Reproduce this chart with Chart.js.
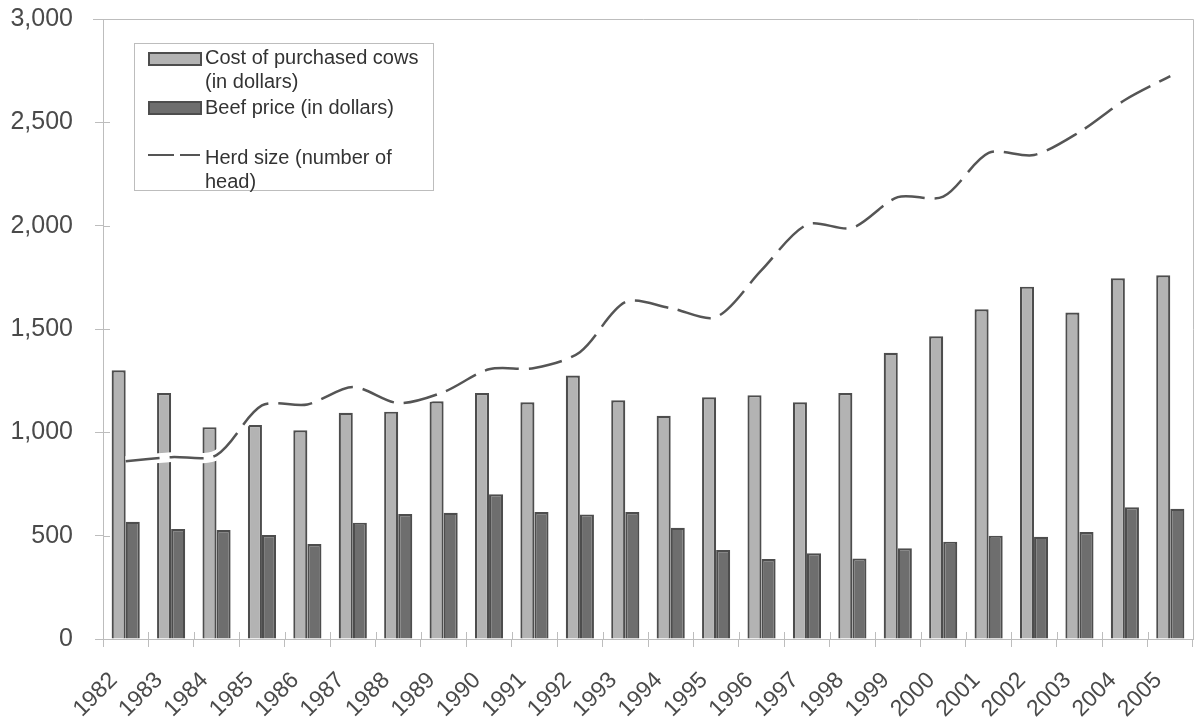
<!DOCTYPE html>
<html>
<head>
<meta charset="utf-8">
<script src="https://cdn.jsdelivr.net/npm/chart.js@4/dist/chart.umd.min.js"></script>
<style>
  html, body { margin: 0; padding: 0; background: #fff; }
  #wrap { position: relative; width: 1196px; height: 721px; }
  #legend { position: absolute; left: 134px; top: 43px; width: 298px; height: 146px;
    border: 1px solid #bdbdbd; background: #fff; font-family: "Liberation Sans", Arial, sans-serif;
    font-size: 20px; color: #333; }
  .item { position: absolute; left: 70px; line-height: 24px; white-space: nowrap; }
  .sw { position: absolute; left: 13px; width: 50px; height: 10px; }
  .dash { position: absolute; left: 13px; height: 0; border-top: 2.5px solid #555; }
</style>
</head>
<body>
<div id="wrap">
  <canvas id="c" width="1196" height="721"></canvas>
  <div id="legend">
    <div class="sw" style="top:8px;background:#b3b3b3;border:2px solid #4d4d4d;"></div>
    <div class="item" style="top:1px;">Cost of purchased cows<br>(in dollars)</div>
    <div class="sw" style="top:57px;background:#6e6e6e;border:2px solid #4d4d4d;"></div>
    <div class="item" style="top:51px;">Beef price (in dollars)</div>
    <div class="dash" style="top:110px;left:13px;width:26px;"></div>
    <div class="dash" style="top:110px;left:45px;width:20px;"></div>
    <div class="item" style="top:101px;">Herd size (number of<br>head)</div>
  </div>
</div>
<script>
const years = ['1982','1983','1984','1985','1986','1987','1988','1989','1990','1991','1992','1993',
               '1994','1995','1996','1997','1998','1999','2000','2001','2002','2003','2004','2005'];
const cowCost = [1300,1190,1025,1035,1010,1095,1100,1150,1190,1145,1275,1155,
                 1080,1170,1180,1145,1190,1385,1465,1595,1705,1580,1745,1760];
const beefPrice = [567,532,527,503,460,563,605,611,700,614,603,614,
                   538,431,387,415,390,439,471,500,495,518,637,630];
const herdSize = [860,880,890,1130,1135,1219,1142,1195,1305,1311,1388,1630,
                  1601,1558,1785,2005,1990,2138,2140,2352,2342,2453,2608,2724];
const yTicks = [0,500,1000,1500,2000,2500,3000];

const FONT = '"Liberation Sans", Arial, sans-serif';
const AXIS = '#bdbdbd';

function noPad(s) { s.paddingTop = 0; s.paddingBottom = 0; s.paddingLeft = 0; s.paddingRight = 0; }

const framePlugin = {
  id: 'frame',
  afterDraw(chart) {
    const ctx = chart.ctx;
    const {left, right, top, bottom} = chart.chartArea;
    ctx.save();
    ctx.strokeStyle = AXIS;
    ctx.lineWidth = 1;
    ctx.beginPath();
    ctx.moveTo(left - 10, top + 0.5);
    ctx.lineTo(right + 0.5, top + 0.5);
    ctx.lineTo(right + 0.5, bottom);
    const ys = chart.scales.y;
    yTicks.forEach(v => {
      const y = Math.round(ys.getPixelForValue(v)) + 0.5;
      ctx.moveTo(left, y); ctx.lineTo(left + 7, y);
    });
    const n = years.length;
    for (let i = 0; i <= n; i++) {
      const x = Math.round(left + i * (right - left) / n) + 0.5;
      ctx.moveTo(x, bottom); ctx.lineTo(x, bottom - 7);
    }
    ctx.stroke();
    ctx.restore();
  }
};

new Chart(document.getElementById('c'), {
  type: 'bar',
  data: {
    labels: years,
    datasets: [
      { type: 'line', label: 'Herd size (number of head)', data: herdSize,
        borderColor: '#555', borderWidth: 2.5, borderDash: [34, 10], tension: 0.3,
        pointRadius: 0, fill: false, order: 0 },
      { type: 'line', label: 'halo', data: herdSize,
        borderColor: '#ffffff', borderWidth: 10, tension: 0.3,
        pointRadius: 0, fill: false, order: 1 },
      { label: 'Cost of purchased cows (in dollars)', data: cowCost,
        backgroundColor: '#b3b3b3', borderColor: '#4d4d4d', borderWidth: 2.2,
        categoryPercentage: 0.62, barPercentage: 1.0, order: 2 },
      { label: 'Beef price (in dollars)', data: beefPrice,
        backgroundColor: '#6e6e6e', borderColor: '#4d4d4d', borderWidth: 2.2,
        categoryPercentage: 0.62, barPercentage: 1.0, order: 3 }
    ]
  },
  options: {
    responsive: false,
    animation: false,
    devicePixelRatio: 1,
    layout: { padding: { left: 0, right: 3, top: 19, bottom: 0 } },
    plugins: { legend: { display: false }, tooltip: { enabled: false } },
    scales: {
      x: {
        grid: { drawOnChartArea: false, tickLength: 8, color: AXIS },
        border: { color: AXIS },
        ticks: { maxRotation: 45, minRotation: 45, padding: 20, labelOffset: -12, color: '#4a4a4a',
                  font: { family: FONT, size: 23 } },
        afterFit(s) { s.height = 82; noPad(s); }
      },
      y: {
        min: 0, max: 3000,
        afterBuildTicks(s) { s.ticks = yTicks.map(v => ({ value: v })); },
        grid: { drawOnChartArea: false, tickLength: 8, color: AXIS },
        border: { color: AXIS },
        ticks: { padding: 22, color: '#4a4a4a', font: { family: FONT, size: 25 },
                  callback: v => Number(v).toLocaleString('en-US') },
        afterFit(s) { s.width = 103; noPad(s); }
      }
    }
  },
  plugins: [framePlugin]
});
</script>
</body>
</html>
